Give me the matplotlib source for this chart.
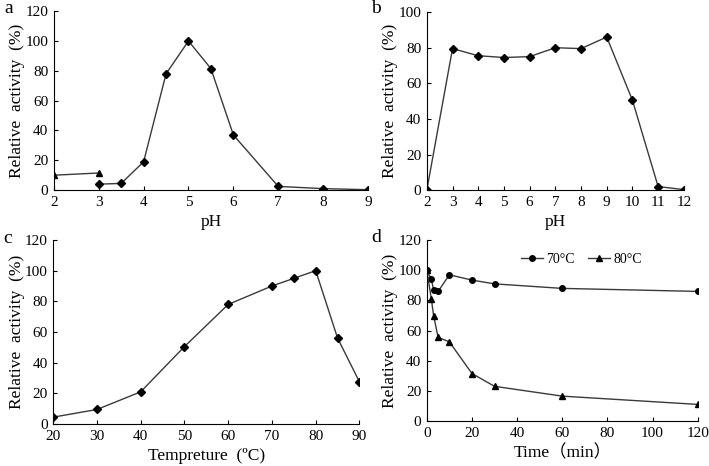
import matplotlib
matplotlib.use("Agg")
import matplotlib.pyplot as plt

plt.rcParams['font.family'] = ['Liberation Serif', 'DejaVu Serif']

# panel a: optimum pH (two buffer systems)
ph_a1 = [2, 3]
act_a1 = [10, 11.5]
ph_a2 = [3, 3.5, 4, 4.5, 5, 5.5, 6, 7, 8, 9]
act_a2 = [4, 4.5, 19, 78, 100, 81.5, 37, 2.5, 1, 0.3]

# panel b: pH stability
ph_b = [2, 3, 4, 5, 6, 7, 8, 9, 10, 11, 12]
act_b = [0, 79.5, 75.5, 74.5, 75, 80, 79.5, 86, 50.5, 2, 0.3]

# panel c: optimum temperature
temp_c = [20, 30, 40, 50, 60, 70, 75, 80, 85, 90]
act_c = [4.5, 9.5, 21, 50.5, 78, 90, 95, 100, 56, 27.5]

# panel d: thermal stability
time_d = [0, 2, 3, 5, 10, 20, 30, 60, 120]
act_70 = [100, 94, 87, 86, 97, 93.5, 91, 88, 86]
act_80 = [100, 81, 70, 55.5, 52.5, 31.5, 23, 16.5, 11]

line_kw = dict(color='#3a3a3a', lw=1.0, markerfacecolor='black', markeredgecolor='black')

fig = plt.figure(figsize=(7.09, 4.66), dpi=100)
ax_a = fig.add_axes([0.076, 0.592, 0.443, 0.384])
ax_b = fig.add_axes([0.602, 0.592, 0.3625, 0.382])
ax_c = fig.add_axes([0.075, 0.090, 0.432, 0.395])
ax_d = fig.add_axes([0.602, 0.0966, 0.382, 0.388])


def style(ax):
    for s in ['top', 'right']:
        ax.spines[s].set_visible(False)
    for s in ['left', 'bottom']:
        ax.spines[s].set_linewidth(0.8)
    ax.tick_params(direction='in', length=3, width=0.8, labelsize=11, pad=4)
    ax.set_ylabel('Relative  activity  (%)', fontsize=12.5, labelpad=0)


# a
ax_a.plot(ph_a1, act_a1, marker='^', ms=4.5, **line_kw)
ax_a.plot(ph_a2, act_a2, marker='D', ms=4, **line_kw)
ax_a.set_xlim(2, 9)
ax_a.set_ylim(0, 120)
ax_a.set_xticks(range(2, 10))
ax_a.set_yticks(range(0, 121, 20))
ax_a.set_xlabel('pH', fontsize=12.5)
style(ax_a)

# b
ax_b.plot(ph_b, act_b, marker='D', ms=4, **line_kw)
ax_b.set_xlim(2, 12)
ax_b.set_ylim(0, 100)
ax_b.set_xticks(range(2, 13))
ax_b.set_yticks(range(0, 101, 20))
ax_b.set_xlabel('pH', fontsize=12.5)
style(ax_b)

# c
ax_c.plot(temp_c, act_c, marker='D', ms=4, **line_kw)
ax_c.set_xlim(20, 90)
ax_c.set_ylim(0, 120)
ax_c.set_xticks(range(20, 91, 10))
ax_c.set_yticks(range(0, 121, 20))
ax_c.set_xlabel('Tempreture  (\u00baC)', fontsize=12.5)
style(ax_c)

# d
ax_d.plot(time_d, act_70, marker='o', ms=4, label='70\u00b0C', **line_kw)
ax_d.plot(time_d, act_80, marker='^', ms=5, label='80\u00b0C', **line_kw)
ax_d.set_xlim(0, 120)
ax_d.set_ylim(0, 120)
ax_d.set_xticks(range(0, 121, 20))
ax_d.set_yticks(range(0, 121, 20))
ax_d.set_xlabel('Time\uff08min\uff09', fontsize=12.5,
                family=['Liberation Serif', 'Noto Sans CJK SC'])
style(ax_d)
ax_d.legend(loc='upper center', bbox_to_anchor=(0.57, 1.0), ncol=2, frameon=False,
            fontsize=10, handlelength=1.6, columnspacing=1.0, handletextpad=0.2)

# panel letters
for x, y, t in [(0.006, 0.982, 'a'), (0.524, 0.982, 'b'), (0.004, 0.489, 'c'), (0.524, 0.491, 'd')]:
    fig.text(x, y, t, fontsize=14, va='center')

fig.savefig('out.png', dpi=100)
